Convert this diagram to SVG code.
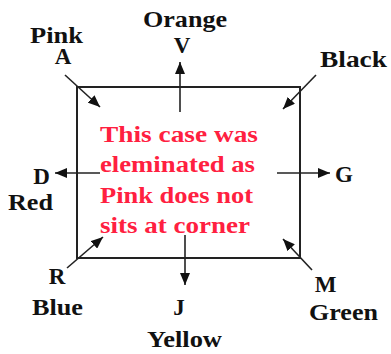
<svg xmlns="http://www.w3.org/2000/svg" width="391" height="354" viewBox="0 0 391 354">
<style>
.lbl{font-family:'Liberation Serif','Times New Roman',serif;font-weight:bold;font-size:23px;fill:#111}
.note{font-family:'Liberation Serif','Times New Roman',serif;font-weight:bold;font-size:24px;fill:#ff2040}
.arr{stroke:#222;stroke-width:1.6;fill:none;marker-end:url(#ah)}
</style>
<defs>
<marker id="ah" markerUnits="userSpaceOnUse" markerWidth="13" markerHeight="10" refX="12" refY="5" orient="auto">
<path d="M0,0 L12,5 L0,10 z" fill="#111"/>
</marker>
</defs>
<rect width="391" height="354" fill="#fff"/>
<g id="box">
<rect x="77" y="87" width="223" height="171" fill="none" stroke="#222" stroke-width="2"/>
<text class="note" x="100" y="142" textLength="158" lengthAdjust="spacingAndGlyphs">This case was</text>
<text class="note" x="100" y="172" textLength="155" lengthAdjust="spacingAndGlyphs">eleminated as</text>
<text class="note" x="100" y="203" textLength="153" lengthAdjust="spacingAndGlyphs">Pink does not</text>
<text class="note" x="100" y="233" textLength="150" lengthAdjust="spacingAndGlyphs">sits at corner</text>
</g>
<g id="connectors">
<line class="arr" x1="65" y1="75" x2="100" y2="107"/>
<line class="arr" x1="180" y1="112" x2="180" y2="62"/>
<line class="arr" x1="316" y1="75" x2="283" y2="109"/>
<line class="arr" x1="100" y1="173" x2="55" y2="173"/>
<line class="arr" x1="277" y1="173" x2="330" y2="173"/>
<line class="arr" x1="67" y1="268" x2="103" y2="237"/>
<line class="arr" x1="185" y1="235" x2="185" y2="285"/>
<line class="arr" x1="312" y1="270" x2="283" y2="239"/>
</g>
<g id="node-A"><text class="lbl" x="30" y="43" textLength="53" lengthAdjust="spacingAndGlyphs">Pink</text><text class="lbl" x="63" y="64" text-anchor="middle">A</text></g>
<g id="node-V"><text class="lbl" x="143" y="27" textLength="84" lengthAdjust="spacingAndGlyphs">Orange</text><text class="lbl" x="182" y="53" text-anchor="middle">V</text></g>
<g id="node-Black"><text class="lbl" x="320" y="67" textLength="67" lengthAdjust="spacingAndGlyphs">Black</text></g>
<g id="node-D"><text class="lbl" x="41.5" y="184" text-anchor="middle">D</text><text class="lbl" x="8" y="210" textLength="45" lengthAdjust="spacingAndGlyphs">Red</text></g>
<g id="node-G"><text class="lbl" x="344" y="182" text-anchor="middle">G</text></g>
<g id="node-R"><text class="lbl" x="57" y="284" text-anchor="middle">R</text><text class="lbl" x="32" y="315" textLength="51" lengthAdjust="spacingAndGlyphs">Blue</text></g>
<g id="node-J"><text class="lbl" x="179" y="315" text-anchor="middle">J</text><text class="lbl" x="147" y="347" textLength="75" lengthAdjust="spacingAndGlyphs">Yellow</text></g>
<g id="node-M"><text class="lbl" x="325.5" y="292" text-anchor="middle">M</text><text class="lbl" x="309" y="320" textLength="69" lengthAdjust="spacingAndGlyphs">Green</text></g>
</svg>
